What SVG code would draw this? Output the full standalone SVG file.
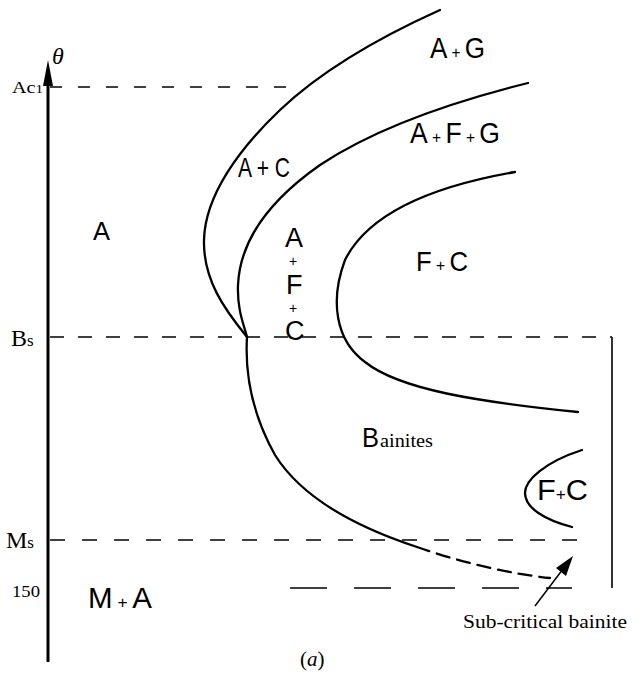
<svg xmlns="http://www.w3.org/2000/svg" width="643" height="674" viewBox="0 0 643 674">
<style>
.curve{fill:none;stroke:#000;stroke-width:2.3;stroke-linecap:round}
.dash{fill:none;stroke:#000;stroke-width:1.3}
.lbl{font-family:"Liberation Sans",Arial,sans-serif;fill:#000}
.pl{font-size:17px}
.ax{font-family:"Liberation Serif","Times New Roman",serif;fill:#000}
</style>
<rect width="643" height="674" fill="#fff"/>
<g id="axis">
<line x1="48" y1="78" x2="48" y2="662" stroke="#000" stroke-width="3"/>
<polygon points="48,60 53,86 43,86" fill="#000"/>
<text class="ax" x="52" y="64" font-size="24" font-style="italic">θ</text>
<text class="ax" x="12" y="93" font-size="16" textLength="31" lengthAdjust="spacingAndGlyphs">Ac<tspan font-size="12">1</tspan></text>
<text class="ax" x="11" y="346" font-size="24">B<tspan font-size="17">s</tspan></text>
<text class="ax" x="6" y="548" font-size="24">M<tspan font-size="17">s</tspan></text>
<text class="ax" x="12" y="597" font-size="17" textLength="28" lengthAdjust="spacingAndGlyphs">150</text>
</g>
<g id="guides">
<line class="dash" x1="50" y1="87" x2="292" y2="87" stroke-dasharray="12 16"/>
<line class="dash" x1="50" y1="337" x2="612" y2="337" stroke-dasharray="14 14"/>
<line class="dash" x1="50" y1="540" x2="585" y2="540" stroke-dasharray="15 17"/>
<line class="dash" x1="290" y1="588" x2="572" y2="588" stroke-dasharray="37 27"/>
<line x1="612" y1="337" x2="612" y2="588" stroke="#000" stroke-width="1.6"/>
</g>
<g id="connectors">
<path id="c1" class="curve" d="M440,10 C380,37 320,72 280,110 C240,148 205,195 204,240 C203,280 225,310 247,337"/>
<path id="c2" class="curve" d="M528,83 C460,100 380,125 320,165 C270,200 240,240 238,285 C237,310 244,325 247,337 C245,370 250,410 275,455 C300,495 350,525 417,547"/>
<path id="c2d" class="curve" d="M417,547 C460,562 510,574 550,578" stroke-width="3" stroke-dasharray="13 8" stroke-linecap="butt"/>
<path id="c3" class="curve" d="M515,172 C440,185 370,210 345,260 C330,300 335,340 365,362 C400,390 480,402 578,412"/>
<path id="c4" class="curve" d="M582,450 C545,462 525,480 525,493 C525,508 545,520 572,527"/>
<line x1="535" y1="606" x2="563" y2="569" stroke="#000" stroke-width="1.5"/>
<polygon points="573,556 566,576 556,568" fill="#000"/>
</g>
<g id="n-A"><text class="lbl" x="93" y="240" font-size="25" textLength="17" lengthAdjust="spacingAndGlyphs">A</text></g>
<g id="n-AG"><text class="lbl" x="430" y="58" font-size="29" textLength="55" lengthAdjust="spacingAndGlyphs">A<tspan class="pl"> + </tspan>G</text></g>
<g id="n-AFG"><text class="lbl" x="410" y="143" font-size="29" textLength="90" lengthAdjust="spacingAndGlyphs">A<tspan class="pl"> + </tspan>F<tspan class="pl"> + </tspan>G</text></g>
<g id="n-AC"><text class="lbl" x="238" y="177" font-size="28" textLength="52" lengthAdjust="spacingAndGlyphs">A + C</text></g>
<g id="n-AFC">
<text class="lbl" font-size="27"><tspan x="285" y="247">A</tspan><tspan x="289" y="266" font-size="14">+</tspan><tspan x="286" y="294">F</tspan><tspan x="289" y="313" font-size="14">+</tspan><tspan x="285" y="340">C</tspan></text>
</g>
<g id="n-FC"><text class="lbl" x="416" y="271" font-size="28" textLength="52" lengthAdjust="spacingAndGlyphs">F<tspan class="pl"> + </tspan>C</text></g>
<g id="n-B"><text class="lbl" x="362" y="447" font-size="28" textLength="17" lengthAdjust="spacingAndGlyphs">B</text><text class="ax" x="380" y="447" font-size="19" textLength="53" lengthAdjust="spacingAndGlyphs">ainites</text></g>
<g id="n-FC2"><text class="lbl" x="537" y="500" font-size="30" textLength="51" lengthAdjust="spacingAndGlyphs">F<tspan class="pl">+</tspan>C</text></g>
<g id="n-MA"><text class="lbl" x="88" y="608" font-size="29" textLength="64" lengthAdjust="spacingAndGlyphs">M<tspan class="pl"> + </tspan>A</text></g>
<g id="n-sub"><text class="ax" x="463" y="628" font-size="19" textLength="164" lengthAdjust="spacingAndGlyphs">Sub-critical  bainite</text></g>
<g id="caption"><text class="ax" x="300" y="666" font-size="21">(<tspan font-style="italic">a</tspan>)</text></g>
</svg>
